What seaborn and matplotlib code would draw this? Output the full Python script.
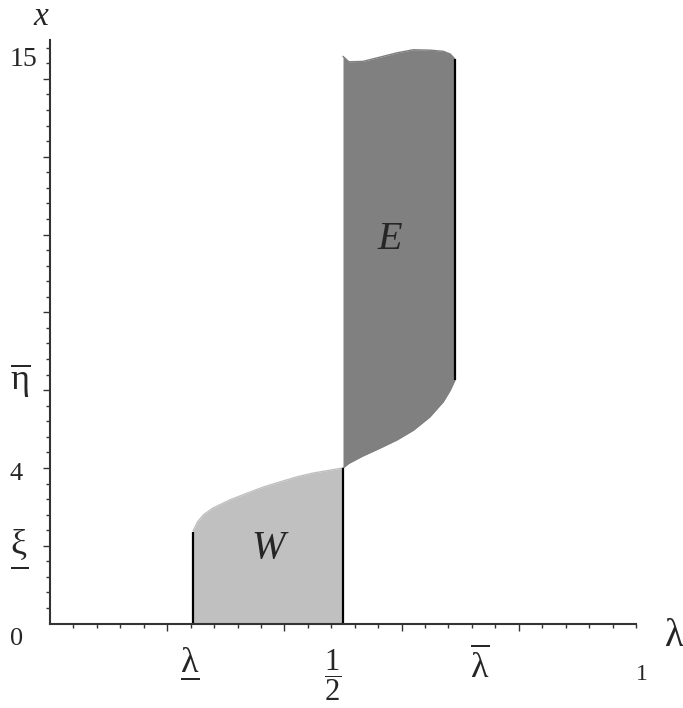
import numpy as np
import matplotlib
matplotlib.use("Agg")
import matplotlib.pyplot as plt
import seaborn as sns
from matplotlib.mathtext import MathTextParser

sns.set_theme(style="white")
plt.rcParams['font.family'] = ['Liberation Serif', 'DejaVu Serif']
plt.rcParams['mathtext.fontset'] = 'custom'
plt.rcParams['mathtext.rm'] = 'Liberation Serif'
plt.rcParams['mathtext.it'] = 'Liberation Serif:italic'

# region W (light): lambda from lambda_ to 1/2, from 0 up to the curve
w_lam = [0.244, 0.247, 0.252, 0.262, 0.278, 0.307, 0.336, 0.364, 0.392, 0.421, 0.449, 0.5]
w_top = [2.38, 2.47, 2.62, 2.80, 2.97, 3.18, 3.35, 3.51, 3.64, 3.77, 3.87, 4.0]

# region E (dark): between lower and upper curve, lambda from 1/2 to lambda-bar
e_lam = [0.5, 0.51, 0.534, 0.563, 0.592, 0.620, 0.648, 0.671, 0.683, 0.691]
e_bottom = [4.0, 4.12, 4.31, 4.51, 4.72, 4.97, 5.31, 5.70, 6.0, 6.26]
e_top = [14.58, 14.44, 14.45, 14.56, 14.67, 14.75, 14.74, 14.71, 14.64, 14.51]

# black vertical boundaries
vline_x = [0.244, 0.5, 0.691]
vline_lo = [0, 0, 6.26]
vline_hi = [2.35, 4.0, 14.51]

# ticks
x_major = [0.2, 0.4, 0.6, 0.8]
x_minor = np.round(np.arange(0.04, 1.0001, 0.04), 2)
y_major = [2, 4, 6, 8, 10, 12, 14]
y_minor = np.round(np.arange(0.4, 14.8001, 0.4), 1)


def underlined(sym):
    # mathtext has no \underline: a fraction with an empty denominator draws the bar
    for s in [r'$\underline{\mathrm{%s}}$', r'$\dfrac{\mathrm{%s}}{\ }$', r'$\frac{\mathrm{%s}}{\ }$']:
        try:
            MathTextParser('path').parse(s % sym)
            return s % sym
        except ValueError:
            pass
    return '$\\mathrm{%s}$' % sym


# x labels in two rows: the fraction and lambda-bar hang from the axis, the other two sit lower
x_lab_pos = [0.483, 0.734]
x_lab_text = [r'$\dfrac{1}{2}$', r'$\overline{\mathrm{\lambda}}$']
x_lab_low_pos = [0.239, 1.0]
x_lab_low_text = [underlined(r'\lambda'), '1']
y_lab_pos = [-0.4, 1.45, 3.85, 6.25, 14.5]
y_lab_text = ['0', underlined(r'\xi'), '4', r'$\overline{\mathrm{\eta}}$', '15']

# pixel layout of the reference
W, H = 683, 708
x0_px, x1_px = 50, 636
y0_px, y15_px = 623.6, 40
xlim = (-0.05, 1.05)
ylim = (-0.6, 15.4)
sx = (x1_px - x0_px)
sy = (y0_px - y15_px) / 15
left_px = x0_px + xlim[0] * sx
right_px = x0_px + xlim[1] * sx
bot_px = y0_px - ylim[0] * sy
top_px = y0_px - ylim[1] * sy

fig = plt.figure(figsize=(W / 100, H / 100), dpi=100)
ax = fig.add_axes([left_px / W, (H - bot_px) / H, (right_px - left_px) / W, (bot_px - top_px) / H])
ax.set_xlim(*xlim)
ax.set_ylim(*ylim)

ax.fill_between(w_lam, 0, w_top, color='#c0c0c0', lw=0)
ax.fill_between(e_lam, e_bottom, e_top, color='#808080', lw=0)
sns.lineplot(x=w_lam, y=w_top, color='#c0c0c0', lw=1, ax=ax)
sns.lineplot(x=e_lam, y=e_bottom, color='#808080', lw=1, ax=ax)
sns.lineplot(x=e_lam, y=e_top, color='#808080', lw=1, ax=ax)
ax.vlines(vline_x, vline_lo, vline_hi, color='black', lw=1.6)

ax.text(0.372, 1.94, 'W', style='italic', fontsize=29, ha='center', va='center')
ax.text(0.580, 9.86, 'E', style='italic', fontsize=29, ha='center', va='center')

# axes through the origin
for s in ['top', 'right']:
    ax.spines[s].set_visible(False)
ax.spines['left'].set_position(('data', 0))
ax.spines['bottom'].set_position(('data', 0))
ax.spines['left'].set_bounds(0, 15)
ax.spines['bottom'].set_bounds(0, 1)
for s in ['left', 'bottom']:
    ax.spines[s].set_color('#333333')
    ax.spines[s].set_linewidth(1.5)

ax.set_xticks(x_major)
ax.set_xticks(x_minor, minor=True)
ax.set_yticks(y_major)
ax.set_yticks(y_minor, minor=True)
ax.tick_params(which='both', direction='out', color='#333333', width=1,
               labelbottom=False, labelleft=False, bottom=True, left=True)
ax.tick_params(which='major', length=5)
ax.tick_params(which='minor', length=2.8)

# tick labels on secondary axes placed on the zero lines
sec_x = ax.secondary_xaxis(0, transform=ax.transData)
sec_x.set_ticks(x_lab_pos, labels=x_lab_text)
sec_x.tick_params(length=0, pad=17, labelsize=26)
sec_x.spines['bottom'].set_visible(False)
sec_x.get_xticklabels()[0].set_fontsize(22)

sec_x2 = ax.secondary_xaxis(-0.42, transform=ax.transData)
sec_x2.set_ticks(x_lab_low_pos, labels=x_lab_low_text)
sec_x2.tick_params(length=0, pad=17, labelsize=26)
sec_x2.spines['bottom'].set_visible(False)
xl = sec_x2.get_xticklabels()
xl[1].set_fontsize(17)
xl[1].set_ha('left')

sec_y = ax.secondary_yaxis(0, transform=ax.transData)
sec_y.set_ticks(y_lab_pos, labels=y_lab_text)
sec_y.tick_params(length=0, pad=29, labelsize=19)
sec_y.spines['left'].set_visible(False)
yl = sec_y.get_yticklabels()
for t in yl:
    t.set_ha('left')
    t.set_va('center')
yl[1].set_fontsize(26)
yl[3].set_fontsize(26)
yl[4].set_fontsize(20)

ax.set_xlabel('λ', fontsize=28, ha='center', va='center')
ax.xaxis.set_label_coords(1.065, -0.32, transform=ax.transData)
ax.set_ylabel('$x$', fontsize=24, rotation=0, ha='center', va='center')
ax.yaxis.set_label_coords(-0.014, 15.6, transform=ax.transData)

fig.savefig('out.png', dpi=100)
